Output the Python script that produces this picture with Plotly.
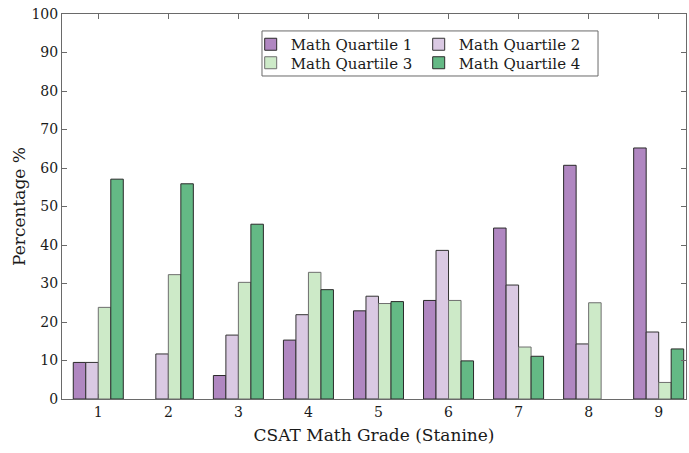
import plotly.graph_objects as go

grades = [1, 2, 3, 4, 5, 6, 7, 8, 9]
q1 = [9.5, 0, 6.1, 15.3, 22.9, 25.6, 44.4, 60.7, 65.2]
q2 = [9.5, 11.7, 16.6, 21.9, 26.7, 38.6, 29.6, 14.3, 17.4]
q3 = [23.8, 32.3, 30.3, 32.9, 24.8, 25.6, 13.5, 25.0, 4.3]
q4 = [57.1, 55.9, 45.4, 28.4, 25.3, 9.9, 11.1, 0, 13.0]
names = ["Math Quartile 1", "Math Quartile 2", "Math Quartile 3", "Math Quartile 4"]
y_ticks = [0, 10, 20, 30, 40, 50, 60, 70, 80, 90, 100]

fills = ["#b087c1", "#dac9e3", "#cdeac8", "#64b985"]
edges = ["#2a2a2a", "#333333", "#6e6e6e", "#2a2a2a"]
legend_ids = ["legend", "legend", "legend2", "legend2"]

FONT = "DejaVu Serif"
fig = go.Figure()
for vals, nm, fc, ec, lg in zip([q1, q2, q3, q4], names, fills, edges, legend_ids):
    fig.add_trace(go.Bar(x=grades, y=vals, name=nm, legend=lg,
                         marker=dict(color=fc,
                                     line=dict(color=ec, width=[0 if v == 0 else 1 for v in vals])),
                         hoverinfo="skip"))

axis_common = dict(showline=True, linecolor="#6a6a6a", linewidth=1, mirror="ticks",
                   ticks="inside", ticklen=5, tickcolor="#6a6a6a", showgrid=False,
                   zeroline=False, automargin=False,
                   tickfont=dict(family=FONT, size=14, color="#1a1a1a"))

leg_common = dict(orientation="h", xanchor="left", yanchor="top",
                  entrywidth=123, entrywidthmode="pixels", bgcolor="rgba(0,0,0,0)",
                  borderwidth=0, font=dict(family=FONT, size=15, color="#1a1a1a"),
                  itemclick=False, tracegroupgap=0)

fig.update_layout(
    width=689, height=453,
    margin=dict(l=62, r=3, t=14, b=54),
    plot_bgcolor="white", paper_bgcolor="white",
    barmode="group", bargap=0.286, bargroupgap=0,
    font=dict(family=FONT, size=15, color="#1a1a1a"),
    xaxis=dict(range=[0.482, 9.39], tickvals=grades, ticktext=[str(g) for g in grades],
               title=dict(text="CSAT Math Grade (Stanine)", font=dict(family=FONT, size=17), standoff=10),
               **axis_common),
    yaxis=dict(range=[0, 100], tickvals=y_ticks,
               title=dict(text="Percentage %", font=dict(family=FONT, size=17), standoff=1),
               **axis_common),
    legend=dict(x=0.3024, y=0.9636, **leg_common),
    legend2=dict(x=0.3024, y=0.9156, **leg_common),
    shapes=[dict(type="rect", xref="paper", yref="paper", x0=0.3205, x1=0.859,
                 y0=0.839, y1=0.956, line=dict(color="#6a6a6a", width=1),
                 fillcolor="white", layer="above")],
)

fig.write_html("out.html", config={"displayModeBar": False},
               post_script="document.body.style.margin='0';")
